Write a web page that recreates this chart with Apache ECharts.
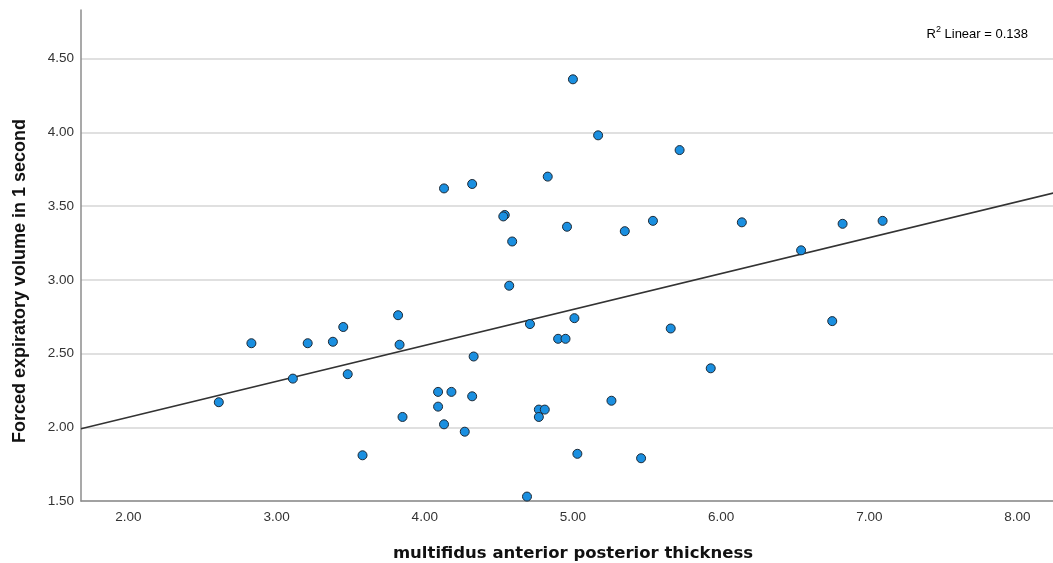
<!DOCTYPE html>
<html>
<head>
<meta charset="utf-8">
<script src="https://cdn.jsdelivr.net/npm/echarts@6/dist/echarts.min.js"></script>
<style>html,body{margin:0;padding:0;background:#fff}#c{width:1053px;height:563px}</style>
</head>
<body>
<div id="c"></div>
<script>
// multifidus anterior posterior thickness (x) vs FEV1 (y)
const thickness = [2.61,2.83,3.11,3.21,3.38,3.45,3.48,
  5.00,5.17,5.72,4.13,4.32,4.83,4.54,4.53,4.59,4.96,5.35,5.54,
  6.14,6.54,6.82,7.09,
  4.57,3.82,3.83,4.71,5.01,4.90,4.95,5.66,4.33,4.09,4.18,4.32,4.09,3.85,4.77,4.81,4.77,5.26,4.13,4.27,3.58,5.03,5.46,4.69,
  6.75,5.93];
const fev1 = [2.17,2.57,2.33,2.57,2.58,2.68,2.36,
  4.36,3.98,3.88,3.62,3.65,3.70,3.44,3.43,3.26,3.36,3.33,3.40,
  3.39,3.20,3.38,3.40,
  2.96,2.76,2.56,2.70,2.74,2.60,2.60,2.67,2.48,2.24,2.24,2.21,2.14,2.07,2.12,2.12,2.07,2.18,2.02,1.97,1.81,1.82,1.79,1.53,
  2.72,2.40];
const fitLine = [[1.68, 1.99], [8.25, 3.59]];
const xTicks = [2,3,4,5,6,7,8];
const yTicks = [1.5,2,2.5,3,3.5,4,4.5];
const xTitle = 'multifidus anterior posterior thickness';
const yTitle = 'Forced expiratory volume in 1 second';
const rSquaredText = '0.138';

const chart = echarts.init(document.getElementById('c'), null, {renderer: 'canvas'});
const font = '"Liberation Sans", Arial, sans-serif';
chart.setOption({
  animation: false,
  backgroundColor: '#fff',
  grid: {left: 81, right: 0, top: 10, bottom: 62},
  xAxis: {
    type: 'value', min: 1.68, max: 8.24,
    axisLine: {show: true, lineStyle: {color: '#8c8c8c', width: 1.5}},
    axisTick: {show: false},
    splitLine: {show: false},
    axisLabel: {customValues: xTicks, formatter: v => v.toFixed(2), fontFamily: font, fontSize: 13.5, color: '#333', margin: 9}
  },
  yAxis: {
    type: 'value', min: 1.5, max: 4.83, interval: 0.5,
    axisLine: {show: true, lineStyle: {color: '#8c8c8c', width: 1.5}},
    axisTick: {show: false},
    splitLine: {show: true, showMaxLine: false, lineStyle: {color: '#d6d6d6', width: 1.5}},
    axisLabel: {customValues: yTicks, formatter: v => v.toFixed(2), fontFamily: font, fontSize: 13.5, color: '#333', margin: 7}
  },
  graphic: [{
    type: 'text', x: 1028, y: 33,
    style: {
      text: '{r|R}{s|2}{r| Linear = ' + rSquaredText + '}',
      align: 'right', verticalAlign: 'middle',
      rich: {
        r: {fontFamily: font, fontSize: 13, color: '#222', lineHeight: 16, verticalAlign: 'bottom'},
        s: {fontFamily: font, fontSize: 9, color: '#222', lineHeight: 16, verticalAlign: 'top'}
      }
    }
  }, {
    type: 'text', x: 573, y: 554,
    style: {text: xTitle, align: 'center', verticalAlign: 'middle',
      fontFamily: '"DejaVu Sans", sans-serif', fontSize: 16.5, fontWeight: 'bold', fill: '#111'}
  }, {
    type: 'text', x: 20, y: 281, rotation: Math.PI / 2,
    style: {text: yTitle, align: 'center', verticalAlign: 'middle',
      fontFamily: font, fontSize: 18, fontWeight: 'bold', fill: '#111'}
  }],
  series: [{
    type: 'line', data: fitLine, symbol: 'none', silent: true,
    lineStyle: {color: '#333', width: 1.6}, z: 2
  }, {
    type: 'scatter', data: thickness.map((x, i) => [x, fev1[i]]),
    symbol: 'circle', symbolSize: 9,
    itemStyle: {color: '#1a8fe0', borderColor: '#1e2a36', borderWidth: 1, opacity: 1}, z: 3
  }]
});
</script>
</body>
</html>
